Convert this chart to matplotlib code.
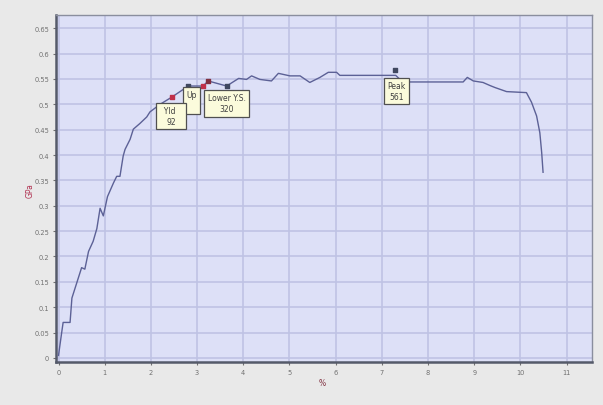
import matplotlib
matplotlib.use("Agg")
import matplotlib.pyplot as plt

# stress-strain record, strain in %, stress in GPa
strain = [0, 0.07, 0.1, 0.25, 0.29, 0.5, 0.57, 0.65, 0.75, 0.83, 0.9, 0.97, 1.06,
          1.19, 1.26, 1.33, 1.40, 1.44, 1.55, 1.62, 1.76, 1.91, 1.98, 2.2, 2.45,
          2.81, 3.13, 3.24, 3.64, 3.9, 4.07, 4.18, 4.36, 4.61, 4.76, 5.01, 5.23,
          5.44, 5.66, 5.84, 6.02, 6.09, 7.3, 7.45, 8.76, 8.85, 8.98, 9.19, 9.34,
          9.45, 9.70, 10.13, 10.24, 10.35, 10.42, 10.46, 10.49]
stress = [0.005, 0.051, 0.07, 0.07, 0.118, 0.178, 0.175, 0.21, 0.23, 0.255, 0.295,
          0.28, 0.318, 0.345, 0.358, 0.358, 0.398, 0.411, 0.431, 0.451, 0.462,
          0.475, 0.485, 0.5, 0.514, 0.536, 0.536, 0.546, 0.536, 0.551, 0.549,
          0.556, 0.549, 0.546, 0.561, 0.556, 0.556, 0.543, 0.553, 0.563, 0.563,
          0.557, 0.557, 0.544, 0.544, 0.553, 0.546, 0.543, 0.537, 0.533, 0.525,
          0.523, 0.504, 0.477, 0.444, 0.405, 0.366]

# marked points on the curve
mark_x = [2.45, 2.81, 3.13, 3.24, 3.64, 7.28]
mark_y = [0.514, 0.536, 0.536, 0.546, 0.536, 0.567]
mark_c = ['#c0304a', '#404860', '#c0304a', '#803040', '#404860', '#404860']

# label boxes: text, x, y
box_text = ['Up\n ', '  Yld   \n92', 'Lower Y.S.\n320', 'Peak\n561']
box_x = [2.88, 2.44, 3.64, 7.31]
box_y = [0.508, 0.477, 0.502, 0.526]

xticks = list(range(0, 12))
yticks = [0, 0.05, 0.1, 0.15, 0.2, 0.25, 0.3, 0.35, 0.4, 0.45, 0.5, 0.55, 0.6, 0.65]
ytick_labels = ['0', '0.05', '0.1', '0.15', '0.2', '0.25', '0.3', '0.35', '0.4',
                '0.45', '0.5', '0.55', '0.6', '0.65']

fig = plt.figure(figsize=(6.03, 4.06), dpi=100, facecolor='#e9e9e9')
ax = fig.add_axes([0.0929, 0.1059, 0.8889, 0.8547])
ax.set_facecolor('#dde0f7')

ax.plot(strain, stress, color='#5c6196', lw=1.0, zorder=3)
ax.scatter(mark_x, mark_y, c=mark_c, s=9, marker='s', zorder=4)

for t, bx, by in zip(box_text, box_x, box_y):
    ax.text(bx, by, t, ha='center', va='center', fontsize=5.5, color='#404040',
            linespacing=1.25, zorder=5,
            bbox=dict(boxstyle='square,pad=0.45', fc='#fbfbdc', ec='#505050', lw=0.9))

ax.set_xlim(-0.054, 11.55)
ax.set_ylim(-0.008, 0.676)
ax.set_xticks(xticks)
ax.set_yticks(yticks)
ax.set_yticklabels(ytick_labels)
ax.tick_params(labelsize=4.8, colors='#707070', length=2, width=0.8, pad=3)
ax.grid(True, color='#bfc3e4', lw=1.2, zorder=1)
ax.set_axisbelow(True)

for s in ['left', 'bottom']:
    ax.spines[s].set_color('#555a6a')
    ax.spines[s].set_linewidth(1.8)
for s in ['top', 'right']:
    ax.spines[s].set_color('#8a8e9e')
    ax.spines[s].set_linewidth(1.0)

fig.text(0.05, 0.53, 'GPa', rotation=90, ha='center', va='center',
         fontsize=5.5, color='#b03050')
fig.text(0.535, 0.055, '%', ha='center', va='center', fontsize=5.5, color='#803040')

fig.savefig('out.png', dpi=100, facecolor=fig.get_facecolor())
